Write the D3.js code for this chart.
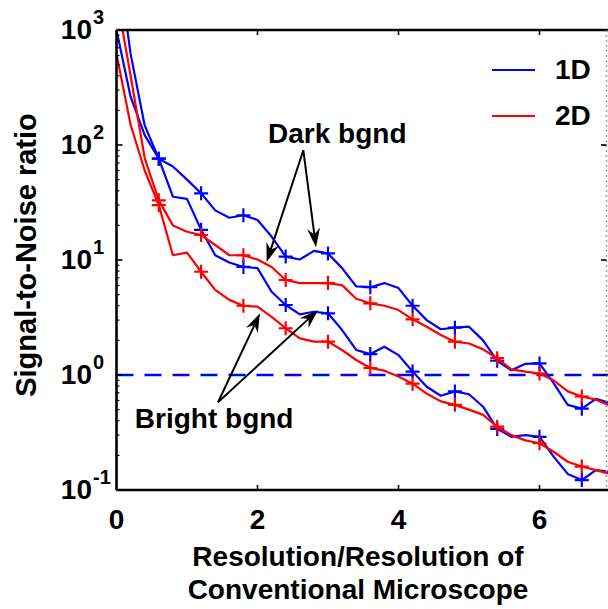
<!DOCTYPE html>
<html>
<head>
<meta charset="utf-8">
<script src="https://cdn.jsdelivr.net/npm/d3@7"></script>
<style>
  body { margin: 0; background: #fff; }
  svg text { font-family: "Liberation Sans", Arial, sans-serif; font-weight: bold; fill: #000; }
</style>
</head>
<body>
<div id="chart"></div>
<script>
// Constants for the chart
const CHART_WIDTH = 608;
const CHART_HEIGHT = 609;
const PLOT = { left: 116.5, right: 610, top: 30, bottom: 490 };

const resolution = [0, 0.2, 0.4, 0.6, 0.8, 1.0, 1.2, 1.4, 1.6, 1.8, 2.0, 2.2, 2.4, 2.6, 2.8, 3.0, 3.2, 3.4,
  3.6, 3.8, 4.0, 4.2, 4.4, 4.6, 4.8, 5.0, 5.2, 5.4, 5.6, 5.8, 6.0, 6.2, 6.4, 6.6, 6.8, 7.0];
const dark1D = [5000, 620, 148, 76, 65, 50, 38, 27, 23.3, 24.5, 22.3, 16, 10.7, 10.1, 12.0, 11.4, 8.5, 5.9,
  5.8, 6.3, 5.7, 4.0, 3.0, 2.5, 2.58, 2.63, 2.0, 1.33, 1.1, 1.25, 1.26, 0.85, 0.55, 0.51, 0.62, 0.57];
const bright1D = [1000, 263, 122, 76, 35.5, 34, 18.3, 11, 9.5, 8.7, 8.5, 5.3, 4.06, 3.37, 3.55, 3.44, 2.46, 1.65,
  1.52, 1.76, 1.49, 1.07, 0.79, 0.66, 0.72, 0.68, 0.53, 0.34, 0.29, 0.30, 0.29, 0.195, 0.138, 0.122, 0.149, 0.144];
const dark2D = [2000, 400, 77, 33, 20, 17.6, 16.5, 13.5, 11, 11, 10.1, 8.7, 6.7, 6.3, 6.3, 6.3, 6.05, 4.6,
  4.2, 4.0, 3.67, 3.05, 2.63, 2.23, 1.95, 1.88, 1.67, 1.4, 1.12, 1.07, 1.03, 0.9, 0.72, 0.65, 0.61, 0.54];
const bright2D = [620, 150, 60, 30, 11, 11.6, 7.9, 5.5, 4.5, 4.0, 3.93, 3.2, 2.55, 2.08, 1.95, 1.95, 1.65, 1.35,
  1.15, 1.09, 0.97, 0.84, 0.69, 0.59, 0.55, 0.50, 0.45, 0.355, 0.30, 0.27, 0.255, 0.215, 0.176, 0.16, 0.149, 0.138];

const xTicks = [0, 2, 4, 6];
const yTicks = [0.1, 1, 10, 100, 1000];
const yExponents = ["-1", "0", "1", "2", "3"];
const legendLabels = ["1D", "2D"];
const referenceLevel = 1;

// annotation anchors, in data units
const darkLabel = [2.15, 104];
const darkFrom = [2.65, 90];
const darkTips = [[2.13, 9.6], [2.83, 12.9]];
const brightLabel = [0.26, 0.346];
const brightFrom = [1.44, 0.58];
const brightTips = [[2.035, 3.44], [2.86, 3.67]];

const BLUE = "#0000ff";
const RED = "#ff0000";

let svg = d3.select("#chart").append("svg")
  .attr("width", CHART_WIDTH).attr("height", CHART_HEIGHT);

let xScale = d3.scaleLinear().domain([0, 7]).range([PLOT.left, PLOT.right]);
let yScale = d3.scaleLog().domain([0.1, 1000]).range([PLOT.bottom, PLOT.top]);

svg.append("clipPath").attr("id", "plot-clip")
  .append("rect")
  .attr("x", PLOT.left).attr("y", PLOT.top)
  .attr("width", PLOT.right - PLOT.left).attr("height", PLOT.bottom - PLOT.top);

// dashed reference line at SNR = 1
svg.append("line")
  .attr("x1", xScale(0)).attr("x2", xScale(7))
  .attr("y1", yScale(referenceLevel)).attr("y2", yScale(referenceLevel))
  .attr("stroke", BLUE).attr("stroke-width", 2.5)
  .attr("stroke-dasharray", "17,11");

// curves
let lineGen = d3.line().x((d, i) => xScale(resolution[i])).y(d => yScale(d));
let series = [
  { values: dark1D, color: BLUE },
  { values: bright1D, color: BLUE },
  { values: dark2D, color: RED },
  { values: bright2D, color: RED }
];
let plotArea = svg.append("g").attr("clip-path", "url(#plot-clip)");
series.forEach(s => {
  plotArea.append("path")
    .attr("d", lineGen(s.values))
    .attr("fill", "none")
    .attr("stroke", s.color)
    .attr("stroke-width", 2.2)
    .attr("stroke-linejoin", "round");
  // + markers on every third sample
  s.values.forEach((v, i) => {
    if (i === 0 || i % 3 !== 0) return;
    let cx = xScale(resolution[i]), cy = yScale(v);
    plotArea.append("path")
      .attr("d", `M${cx - 7},${cy}H${cx + 7}M${cx},${cy - 7}V${cy + 7}`)
      .attr("stroke", s.color).attr("stroke-width", 2.2);
  });
});

// axes frame
let frame = svg.append("g").attr("stroke", "#000").attr("stroke-width", 2.6);
frame.append("line").attr("x1", PLOT.left).attr("x2", PLOT.right).attr("y1", PLOT.bottom).attr("y2", PLOT.bottom);
frame.append("line").attr("x1", PLOT.left).attr("x2", PLOT.right).attr("y1", PLOT.top).attr("y2", PLOT.top);
frame.append("line").attr("x1", PLOT.left).attr("x2", PLOT.left).attr("y1", PLOT.top).attr("y2", PLOT.bottom);
svg.append("line")
  .attr("x1", CHART_WIDTH - 1.5).attr("x2", CHART_WIDTH - 1.5)
  .attr("y1", PLOT.top).attr("y2", PLOT.bottom)
  .attr("stroke", "#999").attr("stroke-width", 1.5).attr("stroke-dasharray", "2,3");

// x ticks (inside, bottom and top)
xTicks.forEach(t => {
  if (t === 0) return;
  frame.append("line").attr("x1", xScale(t)).attr("x2", xScale(t))
    .attr("y1", PLOT.bottom).attr("y2", PLOT.bottom - 5).attr("stroke-width", 1.6);
  frame.append("line").attr("x1", xScale(t)).attr("x2", xScale(t))
    .attr("y1", PLOT.top).attr("y2", PLOT.top + 5).attr("stroke-width", 1.6);
});
xTicks.forEach(t => {
  svg.append("text")
    .attr("x", xScale(t)).attr("y", 529)
    .attr("text-anchor", "middle")
    .style("font-size", "28px")
    .text(t);
});

// y ticks: majors and log minors
yTicks.forEach((t, k) => {
  frame.append("line").attr("x1", PLOT.left).attr("x2", PLOT.left + 6)
    .attr("y1", yScale(t)).attr("y2", yScale(t)).attr("stroke-width", 1.6);
  svg.append("line").attr("x1", CHART_WIDTH - 1.5).attr("x2", CHART_WIDTH - 7)
    .attr("y1", yScale(t)).attr("y2", yScale(t)).attr("stroke", "#000").attr("stroke-width", 1.6);
  if (k < yTicks.length - 1) {
    for (let m = 2; m <= 9; m++) {
      frame.append("line").attr("x1", PLOT.left).attr("x2", PLOT.left + 3)
        .attr("y1", yScale(t * m)).attr("y2", yScale(t * m)).attr("stroke-width", 1.2);
    }
  }
  let label = svg.append("text")
    .attr("x", 92).attr("y", yScale(t) + 9)
    .attr("text-anchor", "end")
    .style("font-size", "28px")
    .text("10");
  svg.append("text")
    .attr("x", 93).attr("y", yScale(t) - 6)
    .style("font-size", "20px")
    .text(yExponents[k]);
});

// axis titles
svg.append("text")
  .attr("x", 358).attr("y", 566)
  .attr("text-anchor", "middle")
  .style("font-size", "28px")
  .text("Resolution/Resolution of");
svg.append("text")
  .attr("x", 358).attr("y", 599)
  .attr("text-anchor", "middle")
  .style("font-size", "28px")
  .text("Conventional Microscope");
svg.append("text")
  .attr("transform", "translate(36, 255) rotate(-90)")
  .attr("text-anchor", "middle")
  .style("font-size", "29px")
  .text("Signal-to-Noise ratio");

// legend
legendLabels.forEach((name, i) => {
  let ly = 70 + i * 46;
  svg.append("line").attr("x1", 492).attr("x2", 535).attr("y1", ly).attr("y2", ly)
    .attr("stroke", i === 0 ? BLUE : RED).attr("stroke-width", 2.2);
  svg.append("text").attr("x", 555).attr("y", ly + 9)
    .style("font-size", "28px").text(name);
});

// annotations with arrows
function arrow(from, to) {
  let x1 = xScale(from[0]), y1 = yScale(from[1]);
  let x2 = xScale(to[0]), y2 = yScale(to[1]);
  let a = Math.atan2(y2 - y1, x2 - x1);
  let len = 19, hw = 6.5, notch = 13;
  let pt = (d, w) => [x2 - d * Math.cos(a) - w * Math.sin(a), y2 - d * Math.sin(a) + w * Math.cos(a)];
  let [nx, ny] = pt(notch, 0);
  svg.append("line").attr("x1", x1).attr("y1", y1).attr("x2", nx).attr("y2", ny)
    .attr("stroke", "#000").attr("stroke-width", 2);
  let p1 = pt(len, hw), p2 = pt(len, -hw);
  svg.append("path")
    .attr("d", `M${x2},${y2}L${p1[0]},${p1[1]}L${nx},${ny}L${p2[0]},${p2[1]}Z`)
    .attr("fill", "#000");
}
darkTips.forEach(t => arrow(darkFrom, t));
brightTips.forEach(t => arrow(brightFrom, t));

svg.append("text")
  .attr("x", xScale(darkLabel[0])).attr("y", yScale(darkLabel[1]))
  .style("font-size", "28px").text("Dark bgnd");
svg.append("text")
  .attr("x", xScale(brightLabel[0])).attr("y", yScale(brightLabel[1]))
  .style("font-size", "28px").text("Bright bgnd");
</script>
</body>
</html>
